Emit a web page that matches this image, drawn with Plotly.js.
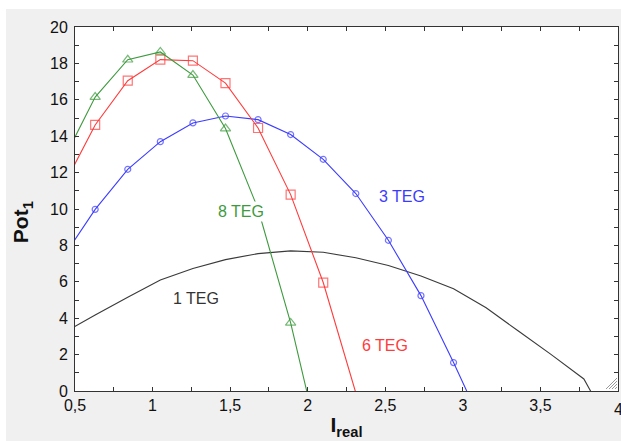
<!DOCTYPE html>
<html><head><meta charset="utf-8">
<script src="https://cdn.plot.ly/plotly-3.0.1.min.js"></script>
<style>html,body{margin:0;padding:0;background:#ffffff;overflow:hidden}
#chart{position:absolute;left:6px;top:9px;width:615px;height:432px}</style>
</head><body>
<div id="chart"></div>
<script>
// shared current grid (A); points outside the visible axis range get clipped by the axes
const currentGrid = [0.42, 0.63, 0.84, 1.05, 1.26, 1.47, 1.68, 1.89, 2.10, 2.31, 2.52, 2.73, 2.94, 3.15, 3.36, 3.57, 3.78, 3.99];

const pot1TEG = [3.16, 4.18, 5.15, 6.10, 6.73, 7.22, 7.55, 7.70, 7.62, 7.32, 6.90, 6.32, 5.62, 4.57, 3.28, 2.00, 0.66, -2.55];
const pot3TEG = [7.30, 9.98, 12.18, 13.70, 14.73, 15.11, 14.91, 14.09, 12.73, 10.85, 8.28, 5.24, 1.56, -2.30];
const pot6TEG = [11.17, 14.62, 17.05, 18.21, 18.15, 16.92, 14.45, 10.79, 5.96, -0.10];
const pot8TEG = [12.60, 16.15, 18.20, 18.63, 17.36, 14.42, 10.00, 3.74, -3.85];

const seriesNames = ['1 TEG', '3 TEG', '6 TEG', '8 TEG'];
const xTickVals = [0.5, 1, 1.5, 2, 2.5, 3, 3.5];
const xEdgeTick = 4;   // last tick label, sits on the right frame edge

const FONT = 'Liberation Sans, Arial, sans-serif';

// plot-area geometry (div pixels) used only for decorative paper-space items
const M = {l: 69, r: 3, t: 18, b: 50}, W = 615, H = 432;
const PW = W - M.l - M.r, PH = H - M.t - M.b;
const px = (pageX) => (pageX - 6 - M.l) / PW;
const py = (pageY) => 1 - (pageY - 9 - M.t) / PH;

function xs(vals) { return currentGrid.slice(0, vals.length); }
function sizes(vals, s) { return vals.map(v => (v < 0 ? 0 : s)); }

const traces = [
  {x: xs(pot1TEG), y: pot1TEG, name: seriesNames[0], mode: 'lines',
   line: {color: '#3a3a3a', width: 1.1}},
  {x: xs(pot3TEG), y: pot3TEG, name: seriesNames[1], mode: 'lines+markers',
   line: {color: '#3b3bff', width: 1.1},
   marker: {symbol: 'circle-open', size: sizes(pot3TEG, 6), color: '#3b3bff', line: {width: 1.2}}},
  {x: xs(pot6TEG), y: pot6TEG, name: seriesNames[2], mode: 'lines+markers',
   line: {color: '#ff3b3b', width: 1.1},
   marker: {symbol: 'square-open', size: sizes(pot6TEG, 9), color: '#ff3b3b', line: {width: 1.2}}},
  {x: xs(pot8TEG), y: pot8TEG, name: seriesNames[3], mode: 'lines+markers',
   line: {color: '#3d9a3d', width: 1.1},
   marker: {symbol: 'triangle-up-open', size: sizes(pot8TEG, 9), color: '#3d9a3d', line: {width: 1.2}}}
];

const labelFont = (c) => ({family: FONT, size: 16, color: c});

const grip = [[606, 389, 617, 378], [609, 389, 617, 381], [612, 389, 617, 384], [615, 389, 617, 387]].map(g => ({
  type: 'line', xref: 'paper', yref: 'paper', layer: 'above',
  x0: px(g[0]), y0: py(g[1]), x1: px(g[2]), y1: py(g[3]),
  line: {color: '#9a9a9a', width: 1}
}));

const layout = {
  width: W, height: H,
  margin: {l: M.l, r: M.r, t: M.t, b: M.b, pad: 0},
  paper_bgcolor: '#f0f0f0',
  plot_bgcolor: '#ffffff',
  showlegend: false,
  separators: ', ',
  font: {family: FONT, size: 16, color: '#000'},
  xaxis: {
    range: [0.5, 4], autorange: false,
    tickvals: xTickVals,
    ticks: 'inside', ticklen: 4, tickcolor: '#333', tickwidth: 1,
    minor: {dtick: 0.25, tick0: 0.5, ticks: 'inside', ticklen: 4, tickcolor: '#333'},
    showline: true, linecolor: '#333', linewidth: 1, mirror: 'ticks',
    showgrid: false, zeroline: false,
    tickfont: {family: FONT, size: 16, color: '#111'},
    title: {text: '<b>I<sub>real</sub></b>', font: {family: FONT, size: 21, color: '#111'}, standoff: 4}
  },
  yaxis: {
    range: [0, 20], autorange: false,
    dtick: 2, tick0: 0,
    ticks: 'inside', ticklen: 4, tickcolor: '#333', tickwidth: 1,
    minor: {dtick: 1, ticks: 'inside', ticklen: 4, tickcolor: '#333'},
    showline: true, linecolor: '#333', linewidth: 1, mirror: 'ticks',
    showgrid: false, zeroline: false,
    tickfont: {family: FONT, size: 16, color: '#111'},
    ticklabelstandoff: 3
  },
  shapes: grip,
  annotations: [
    {x: xEdgeTick, y: py(409), xref: 'x', yref: 'paper', text: String(xEdgeTick), showarrow: false,
     xanchor: 'center', yanchor: 'middle', font: {family: FONT, size: 16, color: '#111'}},
    {x: px(21.7), y: py(222.5), xref: 'paper', yref: 'paper', text: '<b>Pot<sub>1</sub></b>', textangle: -90,
     showarrow: false, xanchor: 'center', yanchor: 'middle', font: {family: FONT, size: 21, color: '#111'}},
    {x: 1.282, y: 5.10, xref: 'x', yref: 'y', text: seriesNames[0], showarrow: false, font: labelFont('#333333')},
    {x: 2.608, y: 10.70, xref: 'x', yref: 'y', text: seriesNames[1], showarrow: false, font: labelFont('#3b3bff')},
    {x: 2.495, y: 2.51, xref: 'x', yref: 'y', text: seriesNames[2], showarrow: false, font: labelFont('#ff3b3b')},
    {x: 1.569, y: 9.85, xref: 'x', yref: 'y', text: seriesNames[3], showarrow: false, font: labelFont('#3d9a3d'), bgcolor: '#ffffff'}
  ]
};

Plotly.newPlot('chart', traces, layout, {displayModeBar: false, staticPlot: true});
</script>
</body></html>
